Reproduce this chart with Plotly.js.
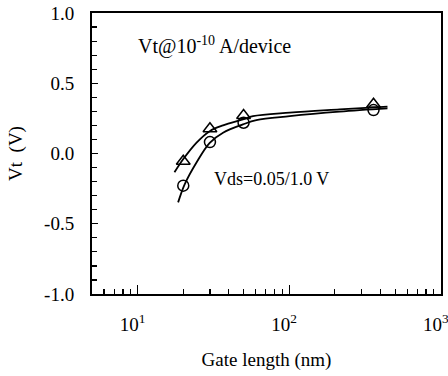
<!DOCTYPE html>
<html>
<head>
<meta charset="utf-8">
<script src="https://cdn.plot.ly/plotly-3.0.1.min.js"></script>
<style>html,body{margin:0;padding:0;background:#fff;}#chart{width:448px;height:376px;}</style>
</head>
<body>
<div id="chart"></div>
<script>
// Measured points
const gateLen = [20, 30, 50, 360];
const vtTriangle = [-0.055, 0.176, 0.271, 0.35];
const vtCircle = [-0.229, 0.081, 0.219, 0.309];

// Fitted curves
const fitTriX = [17.5, 19.9, 24.4, 29.9, 36.6, 49.5, 57.7, 100.7, 215, 445];
const fitTriY = [-0.134, -0.043, 0.076, 0.159, 0.2, 0.243, 0.266, 0.291, 0.314, 0.334];
const fitCirX = [18.5, 20.4, 24.4, 29.9, 36.6, 49.5, 60.7, 100.7, 215, 445];
const fitCirY = [-0.348, -0.221, -0.066, 0.076, 0.148, 0.207, 0.238, 0.266, 0.298, 0.321];

// Axis ticks
const xTickVals = [10, 100, 1000];
const xTickText = ['10<sup>1</sup>', '10<sup>2</sup>', '10<sup>3</sup>'];
const xMinorVals = [6, 7, 8, 9, 20, 30, 40, 50, 60, 70, 80, 90, 200, 300, 400, 500, 600, 700, 800, 900];
const yTickVals = [-1.0, -0.5, 0.0, 0.5, 1.0];
const yTickText = ['-1.0', '-0.5', '0.0', '0.5', '1.0'];

const serif = '"Liberation Serif", "DejaVu Serif", serif';

const traces = [
  {x: fitTriX, y: fitTriY, mode: 'lines', line: {color: '#000', width: 1.8, shape: 'spline'}, hoverinfo: 'skip'},
  {x: fitCirX, y: fitCirY, mode: 'lines', line: {color: '#000', width: 1.8, shape: 'spline'}, hoverinfo: 'skip'},
  {x: gateLen, y: vtTriangle, mode: 'markers',
   marker: {symbol: 'triangle-up-open', size: 12, color: '#000', line: {width: 1.5, color: '#000'}}},
  {x: gateLen, y: vtCircle, mode: 'markers',
   marker: {symbol: 'circle-open', size: 11, color: '#000', line: {width: 1.5, color: '#000'}}}
];

const layout = {
  width: 448, height: 376,
  margin: {l: 92, r: 7, t: 13, b: 82},
  paper_bgcolor: '#fff', plot_bgcolor: '#fff',
  showlegend: false,
  font: {family: serif, color: '#000', size: 19},
  xaxis: {
    type: 'log', range: [Math.log10(5), 3.0015],
    tickmode: 'array', tickvals: xTickVals, ticktext: xTickText,
    ticks: 'inside', ticklen: 9, tickwidth: 1.3, tickcolor: '#000',
    minor: {tickmode: 'array', tickvals: xMinorVals, ticks: 'inside', ticklen: 5, tickwidth: 1.2, tickcolor: '#000'},
    showline: true, linecolor: '#000', linewidth: 2, mirror: true,
    showgrid: false, zeroline: false,
    ticklabelstandoff: 12, ticklabelshift: -5, ticklabeloverflow: 'allow',
    tickfont: {family: serif, size: 19, color: '#000'},
    title: {text: 'Gate length (nm)', font: {family: serif, size: 19, color: '#000'}, standoff: 19}
  },
  yaxis: {
    range: [-1.0, 1.0],
    tickmode: 'array', tickvals: yTickVals, ticktext: yTickText,
    ticks: 'inside', ticklen: 6, tickwidth: 1.3, tickcolor: '#000',
    minor: {dtick: 0.1, tick0: 0, ticks: 'inside', ticklen: 5, tickwidth: 1.2, tickcolor: '#000'},
    showline: true, linecolor: '#000', linewidth: 2, mirror: true,
    showgrid: false, zeroline: false,
    ticklabelstandoff: 12,
    tickfont: {family: serif, size: 19, color: '#000'},
    title: {text: 'Vt  (V)', font: {family: serif, size: 19, color: '#000'}, standoff: 16}
  },
  annotations: [
    {xref: 'paper', yref: 'paper', x: 0.127, y: 0.885, xanchor: 'left', yanchor: 'middle', showarrow: false,
     text: 'Vt@10<sup>-10</sup> A/device', font: {family: serif, size: 20, color: '#000'}},
    {xref: 'paper', yref: 'paper', x: 0.343, y: 0.408, xanchor: 'left', yanchor: 'middle', showarrow: false,
     text: 'Vds=0.05/1.0 V', font: {family: serif, size: 18, color: '#000'}}
  ]
};

Plotly.newPlot('chart', traces, layout, {displayModeBar: false, staticPlot: true});
</script>
</body>
</html>
